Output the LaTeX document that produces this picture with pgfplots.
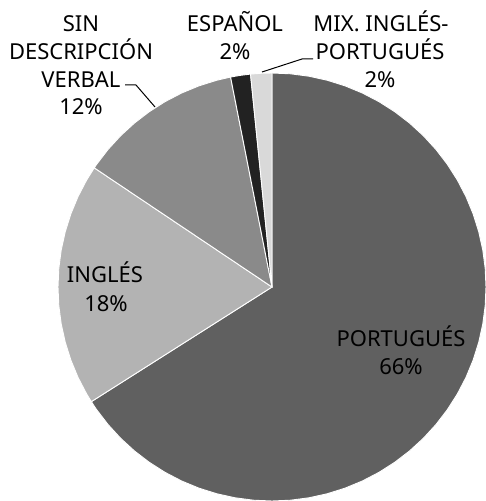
\documentclass[border=0pt]{standalone}
\usepackage{pgfplots}
\pgfplotsset{compat=1.18}
\usepgfplotslibrary{polar}
\usepackage{fontspec}
\setmainfont{Noto Sans}

\definecolor{cPor}{HTML}{606060}
\definecolor{cIng}{HTML}{B3B3B3}
\definecolor{cSin}{HTML}{8A8A8A}
\definecolor{cEsp}{HTML}{222222}
\definecolor{cMix}{HTML}{D9D9D9}

\begin{document}
\begin{tikzpicture}[x=1pt, y=1pt]
\useasboundingbox (0,0) rectangle (486,501);
% shares (%): Portugues 66.0, Ingles 18.4, Sin descripcion 12.5, Espanol 1.5, Mix 1.6
% slices run clockwise from 90 deg; 1% = 3.6 deg
\begin{polaraxis}[hide axis, scale only axis, width=428pt, height=428pt,
  ymin=0, ymax=1, clip=false, at={(272pt,214pt)}, anchor=origin]
\addplot[fill=cPor, draw=white, line width=0.9pt] coordinates {(0,0) (90,1) (85,1) (80,1) (75,1) (70,1) (65,1) (60,1) (55,1) (50,1) (45,1) (40,1) (35,1) (30,1) (25,1) (20,1) (15,1) (10,1) (5,1) (0,1) (-5,1) (-10,1) (-15,1) (-20,1) (-25,1) (-30,1) (-35,1) (-40,1) (-45,1) (-50,1) (-55,1) (-60,1) (-65,1) (-70,1) (-75,1) (-80,1) (-85,1) (-90,1) (-95,1) (-100,1) (-105,1) (-110,1) (-115,1) (-120,1) (-125,1) (-130,1) (-135,1) (-140,1) (-145,1) (-147.6,1)} -- cycle;
\addplot[fill=cIng, draw=white, line width=0.9pt] coordinates {(0,0) (212.4,1) (210,1) (205,1) (200,1) (195,1) (190,1) (185,1) (180,1) (175,1) (170,1) (165,1) (160,1) (155,1) (150,1) (146.16,1)} -- cycle;
\addplot[fill=cSin, draw=white, line width=0.9pt] coordinates {(0,0) (146.16,1) (145,1) (140,1) (135,1) (130,1) (125,1) (120,1) (115,1) (110,1) (105,1) (101.16,1)} -- cycle;
\addplot[fill=cEsp, draw=white, line width=0.9pt] coordinates {(0,0) (101.16,1) (98.5,1) (95.76,1)} -- cycle;
\addplot[fill=cMix, draw=white, line width=0.9pt] coordinates {(0,0) (95.76,1) (93,1) (90,1)} -- cycle;
\end{polaraxis}

\fontsize{22}{28}\selectfont
\tikzset{lab/.style={anchor=base, inner sep=0pt, text=black}}
\node[lab] at (81,469) {SIN};
\node[lab] at (81,441) {DESCRIPCIÓN};
\node[lab] at (81,413) {VERBAL};
\node[lab] at (81,386) {12\%};
\node[lab] at (235,469) {ESPAÑOL};
\node[lab] at (235,441) {2\%};
\node[lab] at (381,469) {MIX. INGLÉS-};
\node[lab] at (380,441) {PORTUGUÉS};
\node[lab] at (380,413) {2\%};
\node[lab] at (105,218) {INGLÉS};
\node[lab] at (106,189) {18\%};
\node[lab] at (401,154) {PORTUGUÉS};
\node[lab] at (401,126) {66\%};
\draw[black, line width=1pt] (125,416) -- (136,416) -- (155,394);
\draw[black, line width=1pt] (313,442) -- (302,442) -- (262,429);
\end{tikzpicture}
\end{document}
